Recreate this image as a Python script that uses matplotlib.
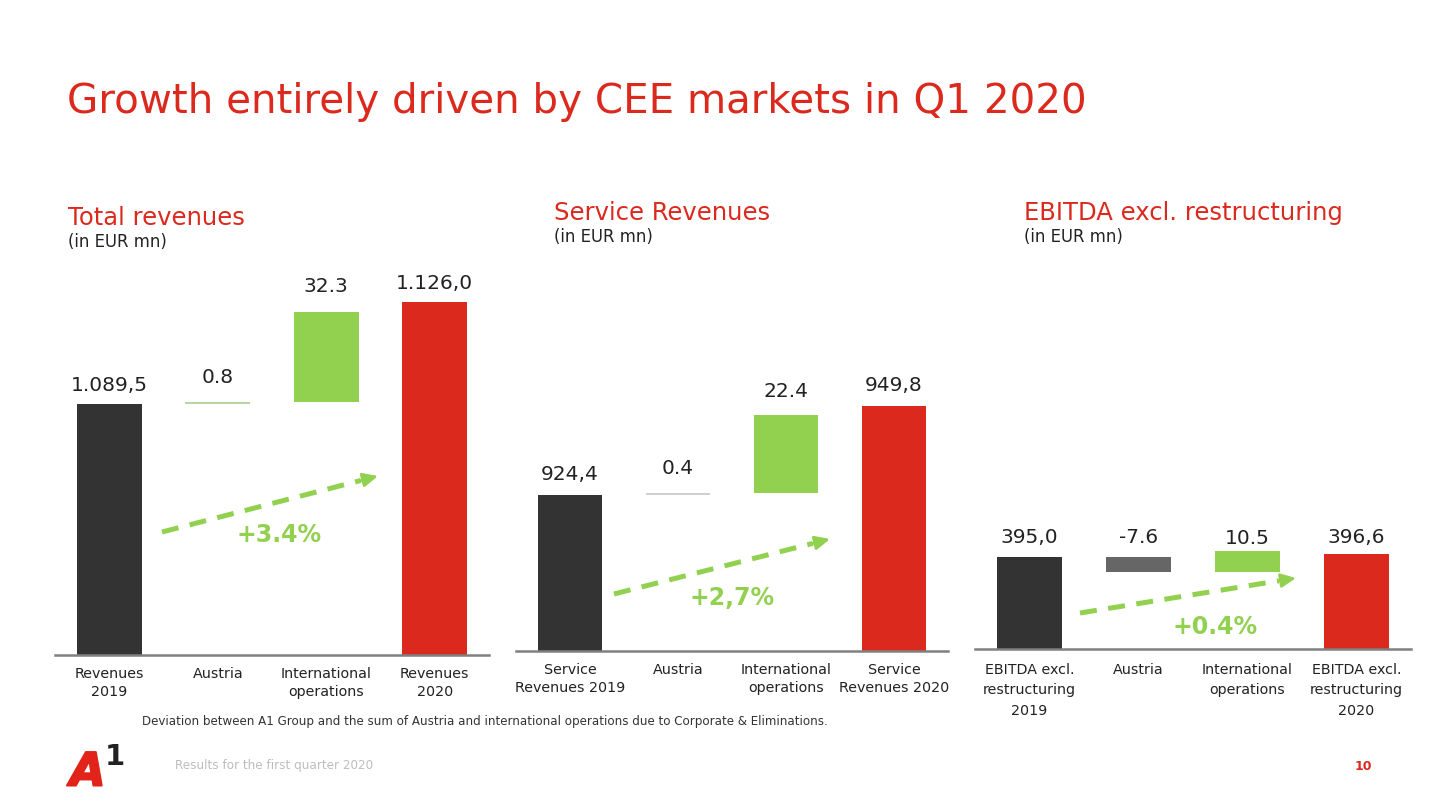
import matplotlib
matplotlib.use("Agg")
import matplotlib.pyplot as plt
import matplotlib.patheffects as pe

W, H = 1440, 810
RED = "#DB291D"
DARK = "#333333"
GREEN = "#92D050"
GREY = "#666666"

plt.rcParams['font.family'] = ['DejaVu Sans']

# values
rev_labels = ["Revenues\n2019", "Austria", "International\noperations", "Revenues\n2020"]
rev_bottoms = [1000.0, 1089.5, 1090.3, 1000.0]
rev_tops = [1089.5, 1090.3, 1122.6, 1126.0]
rev_text = ["1.089,5", "0.8", "32.3", "1.126,0"]

srv_labels = ["Service\nRevenues 2019", "Austria", "International\noperations", "Service\nRevenues 2020"]
srv_bottoms = [879.8, 924.4, 924.8, 879.8]
srv_tops = [924.4, 924.8, 947.2, 949.8]
srv_text = ["924,4", "0.4", "22.4", "949,8"]

ebi_labels = ["EBITDA excl.\nrestructuring\n2019", "Austria", "International\noperations",
              "EBITDA excl.\nrestructuring\n2020"]
ebi_bottoms = [349.0, 387.4, 387.4, 349.0]
ebi_tops = [395.0, 395.0, 398.0, 396.6]
ebi_text = ["395,0", "-7.6", "10.5", "396,6"]


def px_axes(fig, x0, x1, y0, y1):
    # y0 is the top pixel, y1 the bottom pixel
    return fig.add_axes([x0 / W, 1 - y1 / H, (x1 - x0) / W, (y1 - y0) / H])


def waterfall(fig, box, ymin, ymax, labels, bottoms, tops, texts, colors, gaps, pad=9, spacing=1.35):
    ax = px_axes(fig, *box)
    xs = list(range(len(labels)))
    heights = [t - b for t, b in zip(tops, bottoms)]
    ax.bar(xs, heights, bottom=bottoms, width=0.595, color=colors, linewidth=0)
    ax.set_xlim(-0.5, 3.5)
    ax.set_ylim(ymin, ymax)
    for i in xs:
        # gaps are in pixels above the bar top
        ax.annotate(texts[i], (i, tops[i]), xytext=(0, gaps[i] * 0.72), textcoords="offset points",
                    ha="center", va="center", fontsize=14.5, color="#222222")
    ax.set_xticks(xs)
    ax.set_xticklabels(labels, fontsize=10.3, color="#222222", linespacing=spacing)
    ax.tick_params(axis="x", length=0, pad=pad)
    ax.set_yticks([])
    for s in ["top", "left", "right"]:
        ax.spines[s].set_visible(False)
    ax.spines["bottom"].set_color("#808080")
    ax.spines["bottom"].set_linewidth(1.8)
    ax.patch.set_alpha(0)
    return ax


fig = plt.figure(figsize=(W / 100, H / 100), dpi=100, facecolor="white")

waterfall(fig, (55, 489, 255, 655), 1000.0, 1142.8, rev_labels, rev_bottoms, rev_tops, rev_text,
          [DARK, "#B5D6A0", GREEN, RED], [19, 25, 25, 19])
waterfall(fig, (516, 948, 255, 651), 879.8, 992.9, srv_labels, srv_bottoms, srv_tops, srv_text,
          [DARK, "#CFCFCF", GREEN, RED], [20, 25, 24, 20])
waterfall(fig, (975, 1411, 255, 649), 349.0, 546.0, ebi_labels, ebi_bottoms, ebi_tops, ebi_text,
          [DARK, GREY, GREEN, RED], [20, 20, 13, 16], pad=10, spacing=1.58)

# overlay in slide pixels for headings, arrows and footer
ov = fig.add_axes([0, 0, 1, 1])
ov.set_xlim(0, W)
ov.set_ylim(H, 0)
ov.axis("off")
ov.patch.set_alpha(0)

ov.text(67, 102, "Growth entirely driven by CEE markets in Q1 2020", fontsize=29.1, color=RED,
        va="center", ha="left")

headings = [(68, 218, 242, "Total revenues"),
            (554, 213, 237, "Service Revenues"),
            (1024, 213, 237, "EBITDA excl. restructuring")]
for x, y1, y2, name in headings:
    ov.text(x, y1, name, fontsize=17.5, color=RED, va="center", ha="left")
    ov.text(x, y2, "(in EUR mn)", fontsize=11.9, color="#222222", va="center", ha="left")

arrows = [(162, 532, 378, 476, "+3.4%", 279, 535),
          (614, 594, 830, 539, "+2,7%", 732, 598),
          (1080, 613, 1296, 578, "+0.4%", 1215, 627)]
for x0, y0, x1, y1, label, tx, ty in arrows:
    # stop the dashes short of the tip, the head sits on the last stretch
    xm = x0 + 0.92 * (x1 - x0)
    ym = y0 + 0.92 * (y1 - y0)
    ov.plot([x0, xm], [y0, ym], color=GREEN, lw=3.6, linestyle=(0, (3.4, 2.3)), dash_capstyle="butt")
    ov.annotate("", xy=(x1, y1), xytext=(xm, ym),
                arrowprops=dict(arrowstyle="-|>,head_length=0.9,head_width=0.42", color=GREEN,
                                lw=2, shrinkA=0, shrinkB=0))
    ov.text(tx, ty, label, fontsize=17, color=GREEN, fontweight="bold", ha="center", va="center")
ov.set_xlim(0, W)
ov.set_ylim(H, 0)

ov.text(142, 721, "Deviation between A1 Group and the sum of Austria and international operations "
        "due to Corporate & Eliminations.", fontsize=8.6, color="#333333", va="center", ha="left")
ov.text(175, 766, "Results for the first quarter 2020", fontsize=8.65, color="#BDBDBD",
        va="center", ha="left")
ov.text(1363, 767, "10", fontsize=9, color=RED, fontweight="bold", va="center", ha="center")

# logo
ov.text(70, 773, "A", fontsize=33, color="#E2231A", fontweight="bold", style="italic",
        va="center", ha="left", path_effects=[pe.withStroke(linewidth=1.5, foreground="#E2231A")])
ov.text(105, 757, "1", fontsize=21, color="#222222", fontweight="bold", va="center", ha="left")

fig.savefig("out.png", dpi=100, facecolor="white")
